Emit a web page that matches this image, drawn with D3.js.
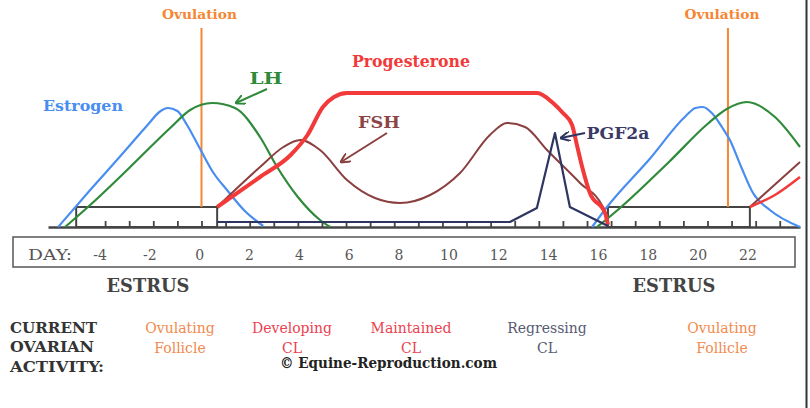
<!DOCTYPE html>
<html>
<head>
  <meta http-equiv="Content-Type" content="text/html;charset=utf-8">
  <title>Equine estrous cycle</title>
  <script src="https://d3js.org/d3.v7.min.js"></script>
  <style type="text/css">
    body { margin: 0; background: #fff; }
    svg text { font-family: "DejaVu Serif", "Liberation Serif", serif; }
    .curve { fill: none; stroke-linejoin: round; }
    .box { fill: #fff; stroke: #444; stroke-width: 2; }
    .lbl { font-weight: bold; }
  </style>
</head>
<body>
  <svg width="810" height="408"></svg>
  <script type='text/javascript'>
    // [day, relative level]
    const estrogen1 = [[-5.95, 0], [-4.62, 18.5], [-3.4, 35], [-2.2, 51.5], [-1.75, 57.5], [-1.39, 59.5], [-1.0, 58], [-0.6, 51], [-0.1, 40], [0.5, 27], [1.06, 18.5], [1.8, 8], [2.56, 0.5]];
    const estrogen2 = [[16.21, 0], [16.83, 10], [18.6, 34], [20.1, 55.5], [20.5, 59.5], [20.81, 60], [21.18, 57], [21.6, 50], [21.93, 43.5], [22.4, 30], [22.89, 17], [23.59, 8.5], [24.84, 0]];
    const lh1 = [[-5.66, 0], [-4.62, 11], [-3.0, 29.5], [-1.3, 49.5], [-0.47, 58.5], [0.44, 62], [1.39, 59.5], [2.43, 45], [3.14, 30], [4.0, 15], [4.92, 3.5], [5.34, 0]];
    const lh2 = [[16.42, 0], [17.37, 9.5], [19.4, 32.5], [21.0, 51.5], [21.8, 59], [22.64, 62.5], [23.8, 55], [24.84, 40]];
    const progesterone1 = [[0.65, 10], [2.43, 25], [3.7, 36], [4.4, 46], [5.04, 60], [5.5, 65], [6.04, 67], [13.93, 67], [14.59, 62], [15.0, 57], [15.38, 51], [15.6, 40], [15.8, 30], [16.12, 17], [16.75, 7], [16.87, 1]];
    const progesterone2 = [[22.76, 10], [23.8, 16], [24.84, 25]];
    const fsh1 = [[0.65, 10], [2.43, 30], [3.4, 40], [4.1, 43.5], [4.92, 38.5], [6.04, 23.5], [7.2, 14.5], [8.24, 12], [9.49, 16], [10.73, 27], [11.97, 46], [12.68, 52], [13.43, 50], [14.34, 38.5], [15.71, 22], [16.66, 10], [16.87, 2.5]];
    const fsh2 = [[22.76, 10], [24.84, 32.5]];
    const pgf2a = [[0.65, 2.5], [12.8, 2.5], [13.92, 9.5], [14.67, 47], [15.29, 10], [16.87, 0.5]];
    const ovulationDays = [0, 21.85];
    const estrusBoxes = [[-5.2, 0.65], [16.87, 22.76]];
    const dayTicks = d3.range(-4, 25);
    const dayLabels = [-4, -2, 0, 2, 4, 6, 8, 10, 12, 14, 16, 18, 20, 22];
    const activities = [
      { lines: ['Ovulating', 'Follicle'], color: '#f28a4e', cx: 180 },
      { lines: ['Developing', 'CL'], color: '#ec3f50', cx: 292 },
      { lines: ['Maintained', 'CL'], color: '#ec3f50', cx: 411 },
      { lines: ['Regressing', 'CL'], color: '#565a72', cx: 547 },
      { lines: ['Ovulating', 'Follicle'], color: '#f28a4e', cx: 722 }
    ];

    const svg = d3.select('svg');
    const x = d3.scaleLinear().domain([-6.37, 24.84]).range([48, 800]);
    const y = d3.scaleLinear().domain([0, 100]).range([227, 27]);
    const xl = d3.scaleLinear().domain([-4, 22]).range([100, 748]);

    const defs = svg.append('defs');
    function arrowHead(id, color) {
      defs.append('marker').attr('id', id)
          .attr('viewBox', '0 0 10 10').attr('refX', 9).attr('refY', 5)
          .attr('markerWidth', 5).attr('markerHeight', 5)
          .attr('orient', 'auto-start-reverse')
        .append('path').attr('d', 'M0,0 L10,5 L0,10')
          .attr('fill', 'none').attr('stroke', color).attr('stroke-width', 2);
    }
    arrowHead('ah-lh', '#2f8a3a');
    arrowHead('ah-fsh', '#8b4040');
    arrowHead('ah-pgf', '#2e3560');

    // estrus boxes
    svg.selectAll('rect.box').data(estrusBoxes).enter().append('rect')
        .attr('class', 'box')
        .attr('x', d => x(d[0])).attr('y', y(10))
        .attr('width', d => x(d[1]) - x(d[0])).attr('height', y(0) - y(10));

    // baseline with day ticks
    const tickAxis = svg.append('g')
        .attr('transform', `translate(0,${y(0)})`)
        .call(d3.axisTop(x).tickValues(dayTicks).tickSize(6).tickSizeOuter(0).tickFormat(''));
    tickAxis.selectAll('.tick line').attr('stroke', '#444').attr('stroke-width', 1.8);
    tickAxis.select('.domain').attr('stroke', '#444').attr('stroke-width', 2.5);

    // ovulation markers
    svg.selectAll('line.ov').data(ovulationDays).enter().append('line')
        .attr('x1', d => x(d)).attr('x2', d => x(d))
        .attr('y1', y(99.5)).attr('y2', y(10))
        .attr('stroke', '#f58634').attr('stroke-width', 2);
    svg.selectAll('text.ov').data(ovulationDays).enter().append('text')
        .attr('class', 'lbl')
        .attr('x', (d, i) => x(d) - (i ? 6 : 2)).attr('y', 19)
        .attr('text-anchor', 'middle').attr('font-size', 13)
        .attr('textLength', 75).attr('lengthAdjust', 'spacingAndGlyphs')
        .attr('fill', '#f58634').text('Ovulation');

    const smooth = d3.line().x(d => x(d[0])).y(d => y(d[1])).curve(d3.curveMonotoneX);
    const straight = d3.line().x(d => x(d[0])).y(d => y(d[1]));

    const series = [
      { data: estrogen1, color: '#4a8df0', w: 2.2, line: smooth },
      { data: estrogen2, color: '#4a8df0', w: 2.2, line: smooth },
      { data: lh1, color: '#2f8a3a', w: 2.2, line: smooth },
      { data: lh2, color: '#2f8a3a', w: 2.2, line: smooth },
      { data: fsh1, color: '#8b4040', w: 2, line: smooth },
      { data: fsh2, color: '#8b4040', w: 2, line: straight },
      { data: progesterone1, color: '#f23a3a', w: 4, line: smooth },
      { data: progesterone2, color: '#f23a3a', w: 2.5, line: smooth },
      { data: pgf2a, color: '#2e3560', w: 2.2, line: straight }
    ];
    svg.selectAll('path.curve').data(series).enter().append('path')
        .attr('class', 'curve')
        .attr('d', d => d.line(d.data))
        .attr('stroke', d => d.color)
        .attr('stroke-width', d => d.w);

    // hormone labels
    const labels = [
      { t: 'Estrogen', x: 83, y: 111, s: 15, len: 80, c: '#4a8df0' },
      { t: 'LH', x: 266, y: 84, s: 17, len: 33, c: '#2f8a3a' },
      { t: 'Progesterone', x: 411, y: 67, s: 16, len: 118, c: '#f23a3a' },
      { t: 'FSH', x: 379, y: 128, s: 17, len: 42, c: '#8b4545' },
      { t: 'PGF2a', x: 618, y: 139, s: 16, len: 63, c: '#3a3a66' }
    ];
    svg.selectAll('text.hl').data(labels).enter().append('text')
        .attr('class', 'lbl')
        .attr('x', d => d.x).attr('y', d => d.y)
        .attr('text-anchor', 'middle').attr('font-size', d => d.s)
        .attr('textLength', d => d.len).attr('lengthAdjust', 'spacingAndGlyphs')
        .attr('fill', d => d.c).text(d => d.t);

    const arrows = [
      { from: [267, 89], to: [236, 103], c: '#2f8a3a', m: 'ah-lh' },
      { from: [387, 133], to: [341, 162], c: '#8b4040', m: 'ah-fsh' },
      { from: [585, 133], to: [561, 138], c: '#2e3560', m: 'ah-pgf' }
    ];
    svg.selectAll('line.arrow').data(arrows).enter().append('line')
        .attr('x1', d => d.from[0]).attr('y1', d => d.from[1])
        .attr('x2', d => d.to[0]).attr('y2', d => d.to[1])
        .attr('stroke', d => d.c).attr('stroke-width', 2)
        .attr('marker-end', d => `url(#${d.m})`);

    // day scale box
    svg.append('rect')
        .attr('x', 13).attr('y', 237).attr('width', 782).attr('height', 30)
        .attr('fill', '#fff').attr('stroke', '#555').attr('stroke-width', 1.5);
    svg.append('text').attr('x', 28).attr('y', 260)
        .attr('font-size', 14).attr('fill', '#555')
        .attr('textLength', 44).attr('lengthAdjust', 'spacingAndGlyphs').text('DAY:');
    svg.selectAll('text.day').data(dayLabels).enter().append('text')
        .attr('x', d => xl(d)).attr('y', 260)
        .attr('text-anchor', 'middle').attr('font-size', 14).attr('fill', '#555')
        .text(d => d);

    svg.selectAll('text.estrus').data([148, 674]).enter().append('text')
        .attr('class', 'lbl')
        .attr('x', d => d).attr('y', 292)
        .attr('text-anchor', 'middle').attr('font-size', 18).attr('fill', '#444')
        .attr('textLength', 83).attr('lengthAdjust', 'spacingAndGlyphs').text('ESTRUS');

    // current ovarian activity
    const heads = [['CURRENT', 333, 87], ['OVARIAN', 352, 84], ['ACTIVITY:', 372, 94]];
    svg.selectAll('text.head').data(heads).enter().append('text')
        .attr('class', 'lbl')
        .attr('x', 10).attr('y', d => d[1])
        .attr('font-size', 14).attr('fill', '#333')
        .attr('textLength', d => d[2]).attr('lengthAdjust', 'spacingAndGlyphs')
        .text(d => d[0]);

    const act = svg.selectAll('g.act').data(activities).enter().append('g');
    act.append('text')
        .attr('x', d => d.cx).attr('y', 333)
        .attr('text-anchor', 'middle').attr('font-size', 14)
        .attr('fill', d => d.color).text(d => d.lines[0]);
    act.append('text')
        .attr('x', d => d.cx).attr('y', 353)
        .attr('text-anchor', 'middle').attr('font-size', 14)
        .attr('fill', d => d.color).text(d => d.lines[1]);

    svg.append('text').attr('class', 'lbl')
        .attr('x', 280).attr('y', 368).attr('font-size', 14).attr('fill', '#222')
        .attr('textLength', 217).attr('lengthAdjust', 'spacingAndGlyphs')
        .text('© Equine-Reproduction.com');

    // right frame edge
    svg.append('line')
        .attr('x1', 806.5).attr('x2', 806.5).attr('y1', 0).attr('y2', 408)
        .attr('stroke', '#333').attr('stroke-width', 2);
  </script>
</body>
</html>
